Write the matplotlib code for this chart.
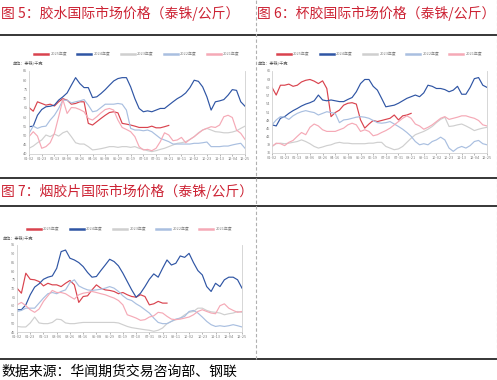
import numpy as np
import matplotlib
matplotlib.use("Agg")
import matplotlib.pyplot as plt
from matplotlib.lines import Line2D

plt.rcParams['font.family'] = ['Noto Sans CJK SC', 'DejaVu Sans']

W, H = 497, 380

years = ['2025年度', '2024年度', '2023年度', '2022年度', '2021年度']
colors = ['#d9434e', '#2f55a4', '#cfcfcf', '#a9bfe0', '#f5a9b6']
xlabels = ['01-02', '01-23', '02-13', '03-06', '03-26', '04-16', '05-08', '05-29', '06-19',
           '07-10', '07-31', '08-21', '09-11', '10-02', '10-23', '11-13', '12-04', '12-25']

# 图5 胶水 (泰铢/千克), one value every ~week
latex_2025 = [65.2, 63.2, 68.3, 67.4, 66.5, 67, 66, 68.3, 70, 69.2, 67, 67.4, 68.3, 68.3, 56.6, 55.7,
              57.5, 59.3, 61, 62.5, 62.9, 62.3, 56.6, 56.2, 55.7, 55.1, 54.4, 54.4, 54.4, 55.1, 54.2,
              54.2, 54.8, 55.5]
latex_2024 = [54.8, 55.1, 61, 64.1, 65.6, 65.9, 66.5, 69.2, 71, 73.1, 77.3, 81.4, 78.2, 76, 76, 70.6,
              71, 72.8, 74.9, 77.3, 79.6, 80.9, 81.4, 81.4, 76.4, 70, 64.7, 62.9, 63.4, 62.9, 63.8,
              64.7, 64.7, 66.5, 68.3, 70, 71.3, 73.1, 76, 80, 79.4, 76.4, 71, 63.8, 68.3, 68.8, 69.5,
              71.9, 74.9, 74.5, 68.3, 65.9]
latex_2023 = [43.1, 44.3, 46.1, 47.6, 50.3, 49.4, 50.8, 49.7, 51.5, 52.4, 49.4, 46.1, 45.4, 45.4, 44,
              42.2, 42.5, 42.9, 43.4, 44, 44, 43.6, 44, 44, 43.6, 44, 43.1, 42.5, 41.8, 41.3, 41.8,
              42.5, 43.1, 44, 44.9, 45.8, 46.1, 46.7, 47.9, 49.4, 51.5, 53, 53.9, 53, 52.1, 51.9,
              51.5, 51.5, 51.9, 52.6, 53.9, 55.1]
latex_2022 = [51.2, 55.1, 53.9, 54.8, 55.1, 58.4, 61, 64.7, 69.2, 69.2, 67.7, 68.3, 68.8, 69.5, 66.5,
              62.9, 63.4, 65.2, 67, 67, 67, 67.4, 67, 63.8, 53.9, 53, 53, 52.6, 53, 52.1, 50.3, 48.5,
              47.6, 46.7, 45.4, 45.4, 45.4, 45.4, 45.4, 45.8, 45.8, 46.1, 46.5, 44, 44, 44, 44.3,
              44.3, 44.9, 45.4, 45.8, 43.1]
latex_2021 = [49.4, 52.1, 49.7, 43.1, 44, 46.1, 51.2, 60.2, 69.5, 62, 65.2, 65, 64.1, 62.9, 59.3, 58.4,
              60.2, 62.3, 64.1, 64.7, 63.8, 58.4, 54.4, 53.3, 52.1, 49.4, 44, 42.2, 42.5, 41.8, 43.1,
              46.7, 51.5, 50.3, 47.2, 47.6, 49, 46.1, 47.9, 49.4, 51.2, 53, 53.9, 54.8, 54.4, 55.7,
              60.2, 61, 59.8, 53, 51.2, 47.9]

# 图6 杯胶
cup_2025 = [60, 57.2, 60.8, 60.8, 61.2, 60.4, 60.8, 62, 62.6, 62.9, 62.3, 61.4, 62.4, 59.6, 49.3, 50.8,
            51.7, 53.5, 54.2, 54.4, 53.9, 48.1, 45.1, 46.6, 47.9, 47.5, 47.9, 48.3, 48.7, 49.9, 48.1,
            49.6, 49.9, 50.5]
cup_2024 = [46.3, 45.9, 48.7, 49.3, 50.5, 51.5, 52.3, 53.2, 53.9, 54.4, 55.1, 57.2, 55.4, 55.1, 55.4,
            55.1, 54.8, 54.8, 55.6, 56.3, 58.4, 61.4, 62.9, 62.9, 60.4, 59, 56, 52.9, 53.2, 53.5, 54.2,
            55.1, 56, 56.6, 57.2, 56.6, 58, 60.8, 60.4, 59.6, 59.6, 59.2, 58.4, 59, 60.4, 57.5, 57.5,
            60, 63.2, 63.6, 60.8, 60]
cup_2023 = [38.4, 39.4, 39.6, 39.4, 39.6, 39.9, 40.2, 40.8, 40.2, 39.4, 38.4, 37.8, 38.2, 38.7, 39,
            39.6, 39.9, 39.6, 39.6, 39.4, 39.4, 39.4, 39.4, 39.6, 39.6, 39.9, 39.9, 38.4, 37.8, 37.2,
            37.5, 38.4, 39.9, 41.4, 42.7, 43.3, 43.9, 44.7, 45.7, 47.1, 48.3, 49.1, 45.7, 45.9, 46.3,
            46.6, 45.9, 45.1, 44.2, 44.7, 45.1, 45.4]
cup_2022 = [46.3, 48.1, 49.3, 49.1, 48.3, 49.6, 50.5, 51.1, 51.5, 51.1, 50.8, 49.9, 50.5, 51.1, 50.8,
            50.5, 47.1, 48.1, 48.3, 48.7, 49.1, 49.3, 49.1, 48.7, 47.9, 47.1, 46.9, 47.1, 47.5, 46.6,
            45.7, 44.7, 43.5, 42.1, 40.2, 39, 39.4, 39, 40.2, 40.8, 41.8, 40.8, 37.8, 36.6, 37.8,
            38.4, 37.8, 38.7, 40.2, 40.6, 39.4, 39]
cup_2021 = [38.4, 39.6, 39.4, 38.7, 39.9, 40.6, 42.1, 43.5, 42.7, 45.4, 46.6, 45.9, 44.5, 43.9, 43.9,
            43.9, 44.5, 45.1, 46.3, 46.9, 46.3, 43.9, 44.5, 43.9, 42.3, 42.7, 43.5, 44.2, 45.1, 46.3,
            47.5, 48.7, 49.6, 48.7, 46.6, 45.9, 44.7, 45.4, 46.3, 47.5, 48.7, 49.3, 48.3, 48.7, 49.1,
            49.6, 49.6, 49.1, 48.7, 47.9, 46.3, 45.9]

# 图7 烟胶片
rss_2025 = [70.2, 67.3, 78.8, 75.3, 75, 74, 71.5, 73, 72.1, 72.1, 71.1, 73, 74.6, 72.1, 62, 65.4, 65.8,
            69.2, 72.1, 70.2, 69.2, 68.9, 68.3, 67, 67.7, 66.4, 65.4, 65, 66.4, 65.4, 60.6, 61.2,
            62.6, 61.6, 61.6]
rss_2024 = [57.8, 57.8, 60.6, 66.4, 70.8, 72.7, 75.3, 76.5, 77.2, 81.6, 91.2, 92.1, 87.4, 86.4, 84.9,
            82.6, 79.2, 76.5, 76.9, 80.3, 83.5, 86.8, 85.5, 83, 78.8, 74, 69.2, 65, 67.3, 71.1, 75.3,
            78.4, 76.5, 81.6, 86.4, 83.5, 84.5, 88.7, 87.9, 90.2, 84.9, 80.3, 77.8, 71.1, 68.3, 73,
            71.1, 75, 76.5, 76.5, 75, 70.2]
rss_2023 = [48.2, 47.9, 47.9, 50.2, 53.6, 50.2, 49.8, 49.8, 50.5, 52.4, 52.1, 50.2, 49.8, 49.8, 50.2,
            50.5, 50.5, 50.5, 50.5, 50.5, 50.5, 50.5, 50.5, 50.2, 49.2, 48.2, 47.5, 47.1, 46.7, 46.3,
            46, 45.4, 46, 47.3, 49.8, 51.1, 52.1, 53, 54.9, 56.3, 56.8, 58.7, 58.7, 57.4, 56.6, 56.3,
            55.9, 54.9, 55.5, 55.9, 56.8, 56.3]
rss_2022 = [56.8, 57.4, 58.7, 58.7, 58.7, 61.6, 64.5, 67, 67.7, 67, 68.3, 69.2, 73.4, 75, 71.5, 70.2,
            69.2, 68.9, 69.2, 69.6, 70.2, 71.1, 70.2, 68.3, 65.8, 63.9, 63.1, 61.2, 59.7, 57.8, 55.9,
            53, 50.5, 49.8, 49.8, 51.1, 52.4, 53, 54, 56.8, 57.4, 55.9, 53.6, 51.1, 49.2, 48.2, 48.6,
            48.2, 48.6, 49.2, 48.6, 47.9]
rss_2021 = [60.6, 62, 60.1, 57.8, 56.3, 58.2, 62.6, 65.8, 68.9, 67.7, 67.7, 67, 65.4, 63.9, 66.4, 67.3,
            67.7, 68.3, 67.7, 67, 66.4, 65.4, 64.5, 63.1, 60.6, 54.9, 54, 53, 51.7, 52.1, 53.6, 54.3,
            56.3, 55.9, 54, 52.4, 52.1, 52.4, 53, 53.6, 54.9, 56.8, 57.8, 56.8, 55.9, 55.5, 60.1,
            61.2, 58.7, 57.4, 56.3, 56.8]

panels = [
    {'title': '图 5：胶水国际市场价格（泰铢/公斤）', 'title_xy': (1, 13),
     'series': [latex_2025, latex_2024, latex_2023, latex_2022, latex_2021],
     'yticks': np.arange(40, 86, 5), 'box': (29, 71, 245, 154),
     'legend_y': 54, 'unit_xy': (13, 63)},
    {'title': '图 6：杯胶国际市场价格（泰铢/公斤）', 'title_xy': (257, 13),
     'series': [cup_2025, cup_2024, cup_2023, cup_2022, cup_2021],
     'yticks': np.arange(36, 67, 3), 'box': (272, 71, 487, 153),
     'legend_y': 54, 'unit_xy': (258, 63)},
    {'title': '图 7：烟胶片国际市场价格（泰铢/公斤）', 'title_xy': (1, 191),
     'series': [rss_2025, rss_2024, rss_2023, rss_2022, rss_2021],
     'yticks': np.arange(45, 96, 5), 'box': (17, 245, 242, 332),
     'legend_y': 229, 'unit_xy': (3, 238)},
]

fig = plt.figure(figsize=(W / 100, H / 100), dpi=100)


def px(x, y):
    return x / W, 1 - y / H


# page frame: solid rules and dashed column separators
for yy in [35, 178, 206, 359]:
    fig.add_artist(Line2D([0, 1], [1 - yy / H] * 2, color='black', lw=1.1))
for xx in [256, 496.5]:
    fig.add_artist(Line2D([xx / W] * 2, [1 - 359 / H, 1], color='#b0b0b0', lw=0.8, ls=(0, (3, 2))))

for p in panels:
    x0, y0, x1, y1 = p['box']
    ax = fig.add_axes([x0 / W, 1 - y1 / H, (x1 - x0) / W, (y1 - y0) / H])
    for vals, lab, c in zip(p['series'], years, colors):
        ax.plot(np.arange(len(vals)), vals, color=c, lw=0.85, label=lab)
    ax.set_xlim(0, 51)
    ax.set_ylim(p['yticks'][0], p['yticks'][-1])
    ax.set_xticks(np.arange(0, 52, 3))
    ax.set_xticklabels(xlabels)
    ax.set_yticks(p['yticks'])
    ax.tick_params(axis='both', labelsize=2.8, colors='#7f7f7f', length=1.2, width=0.4, pad=1)
    ax.tick_params(axis='y', length=0)
    for s in ['left', 'right', 'bottom']:
        ax.spines[s].set_color('#d0d0d0')
        ax.spines[s].set_linewidth(0.6)
    ax.spines['top'].set_visible(False)

    ax.legend(loc='center', bbox_to_anchor=((x0 + x1) / 2 / W, 1 - p['legend_y'] / H),
              bbox_transform=fig.transFigure, ncol=5, fontsize=2.8, frameon=False,
              handlelength=3.6, columnspacing=2.6, handletextpad=0.6, labelcolor='#7f7f7f')
    for line in ax.get_legend().get_lines():
        line.set_linewidth(1.8)

    ux, uy = px(*p['unit_xy'])
    fig.text(ux, uy, '单位：泰铢/千克', fontsize=3, color='#595959', va='center')
    tx, ty = px(*p['title_xy'])
    fig.text(tx, ty, p['title'], fontsize=10, color='#cc2233', va='center')

sx, sy = px(1, 372)
fig.text(sx, sy, '数据来源：华闻期货交易咨询部、钢联', fontsize=10, color='black', va='center')

fig.savefig('out.png', dpi=100)
